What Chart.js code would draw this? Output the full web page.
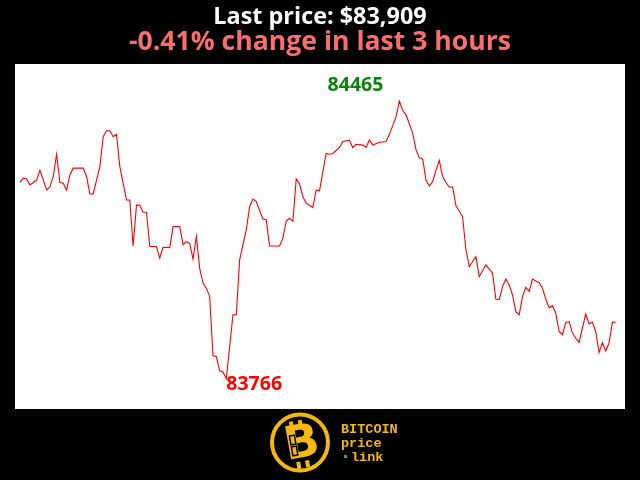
<!DOCTYPE html>
<html>
<head>
<meta charset="utf-8">
<script src="https://cdn.jsdelivr.net/npm/chart.js@4"></script>
<style>
html,body{margin:0;padding:0;background:#000;}
#wrap{width:640px;height:480px;position:relative;}
</style>
</head>
<body>
<div id="wrap"><canvas id="c" width="640" height="480"></canvas></div>
<script>
// minute index within the 3-hour window (vertices of the price path)
const minutes = [0,1,2,3,5,6,8,9,10,11,12,13,14,15,16,19,20,21,22,24,25,26,27,28,29,30,32,33,34,35,36,37,38,39,41,42,43,45,46,48,49,50,51,52,53,54,55,56,57,58,59,60,61,62,64,65,66,68,69,70,71,73,74,75,78,79,80,81,82,83,84,85,86,88,89,90,92,93,94,96,97,99,100,101,103,104,105,106,108,110,111,113,114,115,116,118,119,120,121,122,123,124,125,126,127,128,129,130,131,132,133,134,135,137,138,140,141,142,143,144,145,146,147,148,149,150,151,152,153,154,155,156,157,158,159,160,161,162,163,164,165,166,167,168,170,171,172,173,174,175,176,177,178,179];
// BTC price (USD)
const prices = [84260,84271,84269,84254,84266,84291,84241,84249,84275,84331,84260,84258,84241,84279,84296,84296,84275,84231,84231,84300,84375,84390,84390,84375,84381,84300,84216,84216,84100,84203,84203,84185,84185,84099,84099,84070,84097,84096,84149,84149,84103,84111,84107,84067,84124,84044,84007,83994,83973,83824,83822,83786,83783,83766,83927,83927,84065,84141,84199,84218,84212,84168,84166,84100,84100,84120,84163,84170,84162,84269,84256,84224,84208,84197,84241,84239,84333,84331,84333,84348,84363,84366,84348,84356,84354,84348,84367,84354,84361,84363,84381,84425,84465,84441,84430,84384,84342,84322,84319,84266,84251,84262,84291,84315,84275,84260,84248,84249,84201,84188,84174,84090,84048,84073,84023,84053,84042,84032,83966,83965,83998,84017,84002,83977,83935,83927,83973,83996,83986,84017,84012,84008,83994,83966,83945,83950,83931,83885,83877,83908,83910,83882,83868,83858,83929,83904,83909,83885,83832,83857,83836,83856,83908,83909];
const titleText = "Last price: $83,909";
const subtitleText = "-0.41% change in last 3 hours";
const brandLines = ["BITCOIN", "price", "link"];

const points = minutes.map((m, i) => ({x: m, y: prices[i]}));

const decor = {
  id: 'decor',
  beforeDraw(chart) {
    const {ctx, chartArea: a} = chart;
    ctx.save();
    ctx.fillStyle = '#000';
    ctx.fillRect(0, 0, chart.width, chart.height);
    ctx.fillStyle = '#fff';
    ctx.fillRect(a.left, a.top, a.right - a.left, a.bottom - a.top);
    ctx.restore();
  },
  afterDraw(chart) {
    const {ctx} = chart;
    const xs = chart.scales.x, ys = chart.scales.y;
    ctx.save();
    // titles
    ctx.textAlign = 'center';
    ctx.textBaseline = 'alphabetic';
    ctx.fillStyle = '#ffffff';
    ctx.font = 'bold 23.4px "Open Sans"';
    ctx.fillText(titleText, 320, 24);
    ctx.fillStyle = '#fb6e6e';
    ctx.font = 'bold 26.6px "Open Sans"';
    ctx.fillText(subtitleText, 320, 50);

    // max / min labels
    let iMax = 0, iMin = 0;
    prices.forEach((p, i) => { if (p > prices[iMax]) iMax = i; if (p < prices[iMin]) iMin = i; });
    ctx.font = 'bold 19.5px "Open Sans"';
    ctx.fillStyle = '#0a850a';
    ctx.textAlign = 'right';
    ctx.fillText(String(prices[iMax]), xs.getPixelForValue(minutes[iMax]) - 16, ys.getPixelForValue(prices[iMax]) - 10);
    ctx.fillStyle = '#ff0000';
    ctx.textAlign = 'left';
    ctx.fillText(String(prices[iMin]), xs.getPixelForValue(minutes[iMin]), ys.getPixelForValue(prices[iMin]) + 11);

    // logo
    const gold = '#f5b80e';
    ctx.strokeStyle = gold;
    ctx.lineWidth = 4;
    ctx.beginPath();
    ctx.arc(300, 442.5, 28, 0, Math.PI * 2);
    ctx.stroke();
    ctx.save();
    ctx.translate(302, 444);
    ctx.rotate(-0.18);
    ctx.fillStyle = gold;
    ctx.textAlign = 'center';
    ctx.textBaseline = 'middle';
    ctx.font = 'bold 46px "DejaVu Sans"';
    ctx.fillText('B', 0, 1);
    ctx.fillRect(-9, -24, 4, 7);
    ctx.fillRect(0, -24, 4, 7);
    ctx.fillRect(-9, 17, 4, 7);
    ctx.fillRect(0, 17, 4, 7);
    ctx.strokeStyle = '#000';
    ctx.lineWidth = 1.5;
    ctx.strokeRect(-11, -10, 5, 9);
    ctx.strokeRect(-11, 1, 5, 9);
    ctx.restore();

    ctx.fillStyle = gold;
    ctx.textAlign = 'left';
    ctx.textBaseline = 'alphabetic';
    ctx.font = 'bold 13.5px "Liberation Mono"';
    ctx.fillText(brandLines[0], 341, 433);
    ctx.fillText(brandLines[1], 341, 447);
    ctx.fillText(brandLines[2], 351, 461);
    ctx.fillStyle = '#2db82d';
    ctx.fillRect(344, 455, 3, 3);
    ctx.restore();
  }
};

new Chart(document.getElementById('c'), {
  type: 'line',
  data: {
    datasets: [{
      data: points,
      borderColor: '#ff0000',
      borderWidth: 1.1,
      pointRadius: 0,
      tension: 0,
      fill: false
    }]
  },
  options: {
    responsive: false,
    animation: false,
    parsing: true,
    layout: {padding: {left: 15, right: 15, top: 64, bottom: 71}},
    plugins: {legend: {display: false}, title: {display: false}, tooltip: {enabled: false}},
    scales: {
      x: {type: 'linear', min: -1.5, max: 181.8, display: false},
      y: {min: 83690, max: 84558, display: false}
    }
  },
  plugins: [decor]
});
</script>
</body>
</html>
